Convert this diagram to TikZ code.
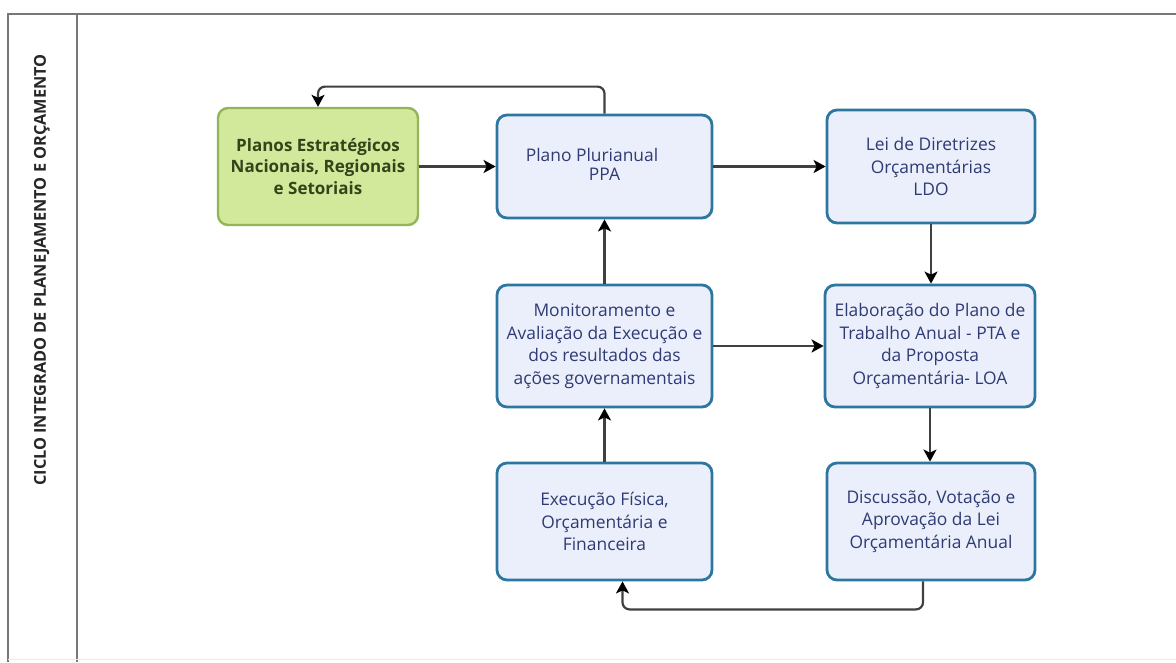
\documentclass[tikz,border=0pt]{standalone}
\usepackage{fontspec}
\setmainfont{Open Sans}
\usetikzlibrary{arrows.meta}

\definecolor{boxfill}{HTML}{EBEFFB}
\definecolor{boxline}{HTML}{2C76A0}
\definecolor{boxtext}{HTML}{2E3B74}
\definecolor{greenfill}{HTML}{D2E99C}
\definecolor{greenline}{HTML}{93B457}
\definecolor{greentext}{HTML}{34441A}
\definecolor{frameline}{HTML}{777777}
\definecolor{linkline}{HTML}{404040}

\tikzset{
  stage/.style={draw=boxline, line width=2.8pt, fill=boxfill, rounded corners=10pt,
    align=center, text=boxtext, font=\fontsize{17.4}{22.6}\selectfont, inner sep=0pt},
  plan/.style={stage, draw=greenline, fill=greenfill, text=greentext,
    font=\bfseries\fontsize{17}{21.5}\selectfont, line width=2.4pt},
  link/.style={draw=linkline, line width=2.2pt, rounded corners=7pt,
    -{Stealth[length=12pt,width=13pt,inset=3pt,color=black]}},
  frame/.style={draw=frameline, line width=2.2pt},
}

\begin{document}
\begin{tikzpicture}[x=1pt,y=-1pt]
\useasboundingbox (0,0) rectangle (1176,662);

% page frame and title column
\draw[frame] (8,662) -- (8,14) -- (1176,14);
\draw[frame] (77,14) -- (77,662);
\draw[draw=black!8, line width=1pt] (8,659) -- (1176,659);
\node[rotate=90, font=\bfseries\fontsize{16.3}{19}\selectfont, text=black!85] (title)
  at (42,270) {CICLO INTEGRADO DE PLANEJAMENTO E ORÇAMENTO};

% stages of the cycle
\node[plan, minimum width=200pt, minimum height=117pt] (plan) at (318,166.5)
  {Planos Estratégicos\\Nacionais, Regionais\\e Setoriais};
\node[stage, minimum width=215pt, minimum height=103pt] (ppa) at (604.5,166.5)
  {\raisebox{5pt}{\begin{tabular}{@{}c@{}}Plano Plurianual\rule{25pt}{0pt}\\[-3pt]PPA\end{tabular}}};
\node[stage, minimum width=208pt, minimum height=113pt] (ldo) at (931,166.5)
  {Lei de Diretrizes\\Orçamentárias\\LDO};
\node[stage, minimum width=215pt, minimum height=122pt] (mon) at (604.5,346)
  {Monitoramento e\\Avaliação da Execução e\\dos resultados das\\ações governamentais};
\node[stage, minimum width=210pt, minimum height=122pt] (elab) at (930,346)
  {Elaboração do Plano de\\Trabalho Anual - PTA e\\da Proposta\\Orçamentária- LOA};
\node[stage, minimum width=215pt, minimum height=117pt] (exec) at (604.5,521.5)
  {Execução Física,\\Orçamentária e\\Financeira};
\node[stage, minimum width=208pt, minimum height=117pt] (disc) at (931,521.5)
  {Discussão, Votação e\\Aprovação da Lei\\Orçamentária Anual};

% connectors
\draw[link] (plan.east) -- (ppa.west);
\draw[link] (ppa.east) -- (ldo.west);
\draw[link] (ppa.north) -- ++(0,-27) -| (plan.north);
\draw[link] (ldo.south) -- (ldo.south |- elab.north);
\draw[link] (mon.north) -- (ppa.south);
\draw[link] (mon.east) -- (elab.west);
\draw[link] (elab.south) -- (elab.south |- disc.north);
\draw[link] (exec.north) -- (mon.south);
\draw[link] ([xshift=-8pt]disc.south) -- ++(0,28) -| ([xshift=18pt]exec.south);
\end{tikzpicture}
\end{document}
